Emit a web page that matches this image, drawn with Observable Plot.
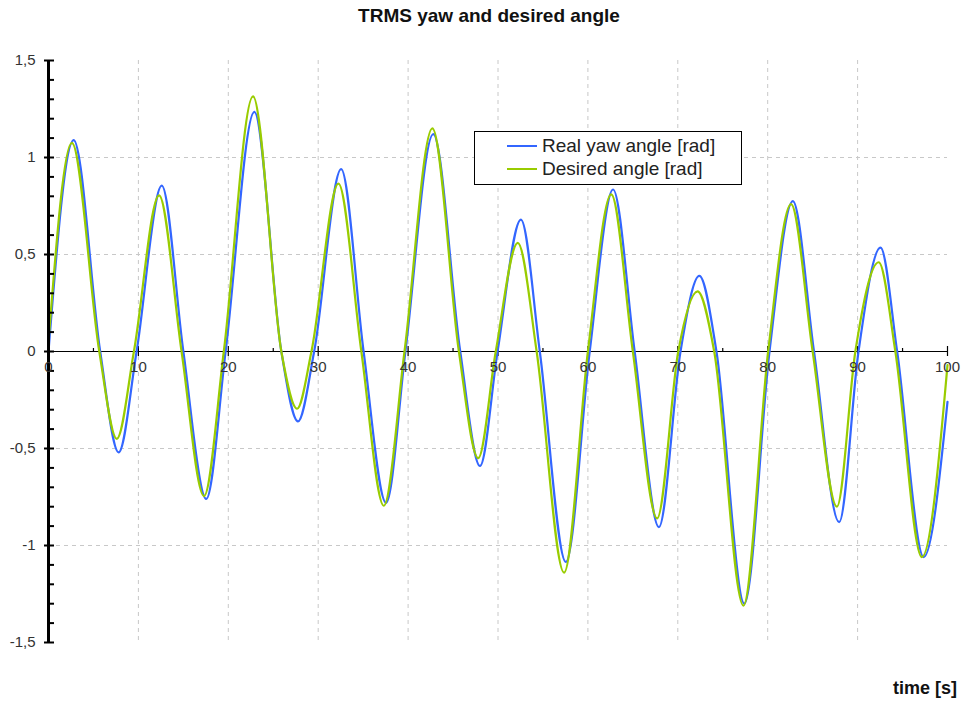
<!DOCTYPE html>
<html>
<head>
<meta charset="utf-8">
<script src="https://cdn.jsdelivr.net/npm/d3@7"></script>
<script src="https://cdn.jsdelivr.net/npm/@observablehq/plot@0.6"></script>
<style>
  body { margin: 0; background: #fff; font-family: "Liberation Sans", Arial, sans-serif; }
  #wrap { position: relative; width: 965px; height: 705px; }
  #title { position: absolute; left: 489px; top: 5px; transform: translateX(-50%); white-space: nowrap;
           font-weight: bold; font-size: 19px; color: #111; }
  #xlabel { position: absolute; right: 8px; top: 678px; font-weight: bold; font-size: 18px; color: #111; }
  #legend { position: absolute; left: 474px; top: 131px; width: 266px; height: 52px; border: 1px solid #000;
            background: #fff; font-size: 19px; color: #222; }
  #legend .row { position: absolute; left: 32px; height: 23px; line-height: 23px; white-space: nowrap; }
  #legend .sw { display: inline-block; width: 30px; height: 2px; vertical-align: middle; margin-right: 5px; position: relative; top: -1px; }
  #chart { position: absolute; left: 0; top: 0; }
</style>
</head>
<body>
<div id="wrap">
  <div id="chart"></div>
  <div id="title">TRMS yaw and desired angle</div>
  <div id="legend">
    <div class="row" style="top:2px"><span class="sw" style="background:#3366ff"></span>Real yaw angle [rad]</div>
    <div class="row" style="top:25px"><span class="sw" style="background:#99cc00"></span>Desired angle [rad]</div>
  </div>
  <div id="xlabel">time [s]</div>
</div>
<script>
// Real yaw angle of the TRMS (extrema and zero crossings), time in seconds
const realTime = [0, 2.8, 5.75, 7.8, 9.8, 12.6, 15.0, 17.55, 19.7, 22.9, 25.9, 27.75, 29.55, 32.55, 35.05, 37.55,
  39.7, 42.8, 45.8, 48.0, 49.95, 52.55, 54.65, 57.55, 60.2, 62.8, 65.2, 67.9, 70.3, 72.4, 74.3, 77.4, 80.2, 82.8,
  85.15, 87.95, 90.1, 92.55, 94.4, 97.35, 100];
const realAngle = [0, 1.09, 0, -0.52, 0, 0.855, 0, -0.76, 0, 1.235, 0, -0.36, 0, 0.94, 0, -0.78,
  0, 1.12, 0, -0.59, 0, 0.68, 0, -1.085, 0, 0.835, 0, -0.905, 0, 0.39, 0, -1.30, 0, 0.775,
  0, -0.88, 0, 0.535, 0, -1.06, -0.26];

// Desired (reference) angle
const desiredTime = [0, 2.6, 5.65, 7.6, 9.5, 12.3, 14.8, 17.3, 19.5, 22.75, 25.9, 27.65, 29.25, 32.25, 34.8, 37.3,
  39.6, 42.7, 45.65, 47.8, 49.75, 52.2, 54.3, 57.35, 60.0, 62.6, 65.0, 67.7, 70.05, 72.2, 74.05, 77.3, 80.05, 82.6,
  85.0, 87.7, 89.75, 92.35, 94.2, 97.15, 100];
const desiredAngle = [0.05, 1.075, 0, -0.45, 0, 0.805, 0, -0.745, 0, 1.315, 0, -0.295, 0, 0.865, 0, -0.795,
  0, 1.15, 0, -0.55, 0, 0.56, 0, -1.14, 0, 0.81, 0, -0.86, 0, 0.31, 0, -1.31, 0, 0.76,
  0, -0.8, 0, 0.46, 0, -1.06, -0.07];

// Axis ticks
const xMajor = [0, 10, 20, 30, 40, 50, 60, 70, 80, 90, 100];
const xMinor = [5, 15, 25, 35, 45, 55, 65, 75, 85, 95];
const xGrid = [10, 20, 30, 40, 50, 60, 70, 80, 90];
const yMajor = [-1.5, -1, -0.5, 0, 0.5, 1, 1.5];
const yMinor = [-1.4, -1.3, -1.2, -1.1, -0.9, -0.8, -0.7, -0.6, -0.4, -0.3, -0.2, -0.1,
  0.1, 0.2, 0.3, 0.4, 0.6, 0.7, 0.8, 0.9, 1.1, 1.2, 1.3, 1.4];
const yGrid = [-1, -0.5, 0.5, 1];

const real = realTime.map((t, i) => ({t, v: realAngle[i]}));
const desired = desiredTime.map((t, i) => ({t, v: desiredAngle[i]}));
const fmt = d => String(d).replace(".", ",");

const chart = Plot.plot({
  width: 965,
  height: 705,
  marginLeft: 48,
  marginRight: 18,
  marginTop: 60,
  marginBottom: 63,
  style: {fontFamily: "'Liberation Sans', Arial, sans-serif", fontSize: "15px", background: "#fff", color: "#222"},
  x: {domain: [0, 100], axis: null},
  y: {domain: [-1.5, 1.5], axis: null},
  marks: [
    Plot.ruleX(xGrid, {x: d => d, stroke: "#c8c8c8", strokeDasharray: "4,4"}),
    Plot.ruleY(yGrid, {y: d => d, stroke: "#c8c8c8", strokeDasharray: "4,4"}),
    // horizontal axis through zero
    Plot.ruleY([0], {stroke: "#000", strokeWidth: 1.2}),
    Plot.ruleX(xMajor, {x: d => d, y1: 0, y2: 0, insetTop: -5, insetBottom: -5, stroke: "#000", strokeWidth: 1.2}),
    Plot.ruleX(xMinor, {x: d => d, y1: 0, y2: 0, insetTop: -3, insetBottom: 0, stroke: "#000", strokeWidth: 1.2}),
    Plot.line(real, {x: "t", y: "v", stroke: "#3366ff", strokeWidth: 2.2, curve: "monotone-x"}),
    Plot.line(desired, {x: "t", y: "v", stroke: "#99cc00", strokeWidth: 2.2, curve: "monotone-x"}),
    // vertical axis
    Plot.ruleX([0], {stroke: "#000", strokeWidth: 3}),
    Plot.ruleY(yMajor, {y: d => d, x1: 0, x2: 0, insetLeft: -4, insetRight: -6, stroke: "#000", strokeWidth: 2}),
    Plot.ruleY(yMinor, {y: d => d, x1: 0, x2: 0, insetLeft: 0, insetRight: -6, stroke: "#000", strokeWidth: 2}),
    Plot.text(yMajor, {x: 0, y: d => d, text: fmt, dx: -13, textAnchor: "end", fill: "#333"}),
    Plot.text(xMajor, {x: d => d, y: 0, text: fmt, dy: 16, fill: "#333"})
  ]
});
document.getElementById("chart").appendChild(chart);
</script>
</body>
</html>
